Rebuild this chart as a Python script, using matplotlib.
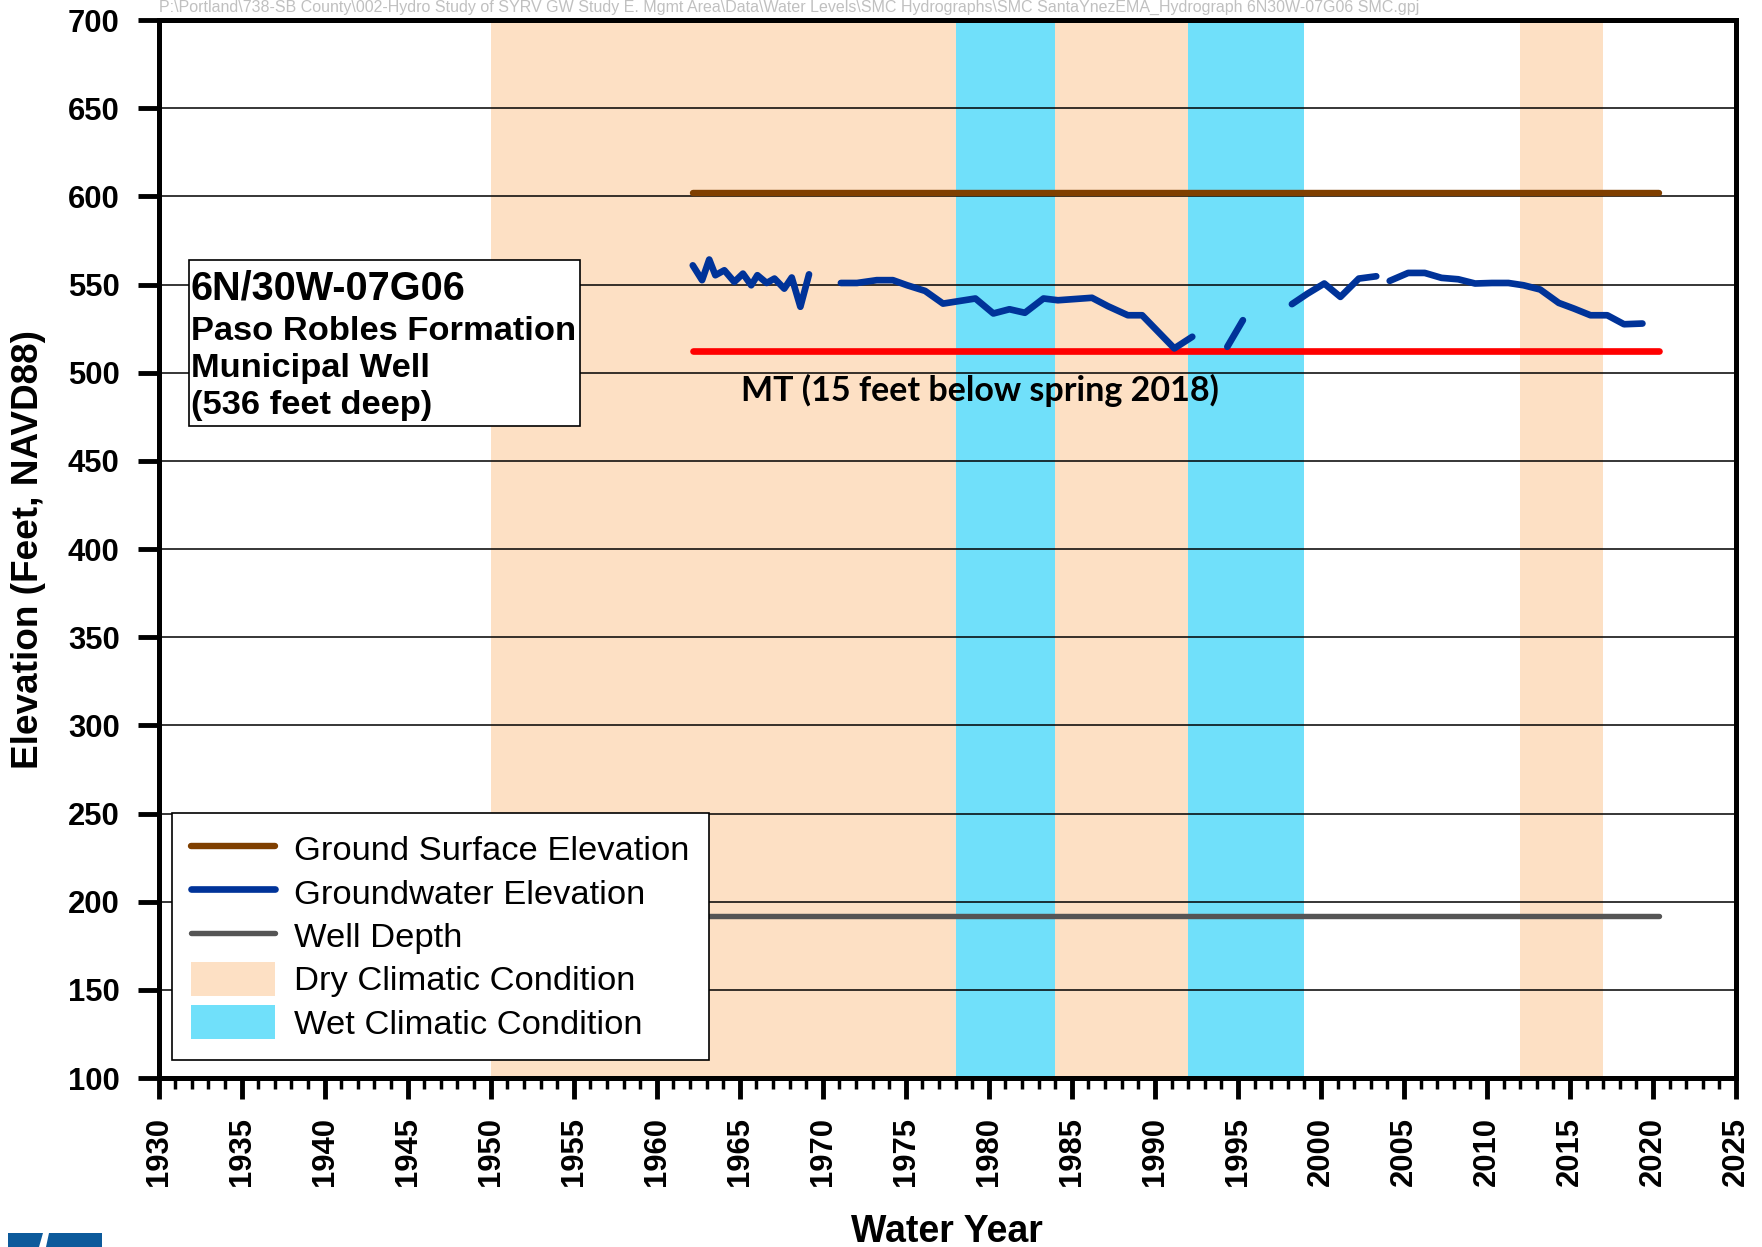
import numpy as np
import matplotlib.pyplot as plt
from matplotlib.patches import Patch, Rectangle, Polygon
from matplotlib.lines import Line2D
from matplotlib.ticker import MultipleLocator

plt.rcParams['font.family'] = ['Liberation Sans', 'DejaVu Sans']

#%% well data

well_name = '6N/30W-07G06'
well_info = ['Paso Robles Formation', 'Municipal Well', '(536 feet deep)']
file_path = ('P:\\Portland\\738-SB County\\002-Hydro Study of SYRV GW Study E. Mgmt Area'
             '\\Data\\Water Levels\\SMC Hydrographs\\SMC SantaYnezEMA_Hydrograph '
             '6N30W-07G06 SMC.gpj')

# groundwater elevation record, one list per continuous stretch
gw_years = [
    [1962.17, 1962.73, 1963.16, 1963.53, 1964.07, 1964.67, 1965.19, 1965.69,
     1966.06, 1966.62, 1967.09, 1967.68, 1968.13, 1968.65, 1969.17],
    [1971.09, 1972.06, 1973.25, 1974.22, 1975.08, 1976.16, 1977.24, 1979.19,
     1980.27, 1981.24, 1982.17, 1983.29, 1984.16, 1986.21, 1987.18, 1988.37,
     1989.23, 1991.17, 1992.25],
    [1994.36, 1995.30],
    [1998.25, 1999.20, 2000.20, 2001.17, 2002.28, 2003.33],
    [2004.14, 2005.25, 2006.25, 2007.26, 2008.27, 2009.28, 2010.29, 2011.29,
     2012.20, 2013.20, 2014.32, 2015.23, 2016.23, 2017.24, 2018.25, 2019.36],
]
gw_elev = [
    [560.9, 552.5, 564.2, 555.3, 558.1, 551.5, 556.2, 549.6,
     555.3, 550.9, 553.4, 547.7, 554.0, 537.4, 555.8],
    [550.9, 550.9, 552.5, 552.5, 549.6, 546.4, 539.2, 542.1,
     533.6, 536.0, 534.0, 542.1, 541.1, 542.5, 537.7, 532.6,
     532.6, 513.8, 520.4],
    [514.7, 529.8],
    [538.9, 544.9, 550.6, 543.0, 553.4, 554.7],
    [552.1, 556.6, 556.6, 553.8, 553.0, 550.6, 550.9, 550.9,
     549.6, 547.2, 539.6, 536.4, 532.6, 532.6, 527.5, 527.9],
]

record_span = [1962.2, 2020.35]
ground_surface = 602
mt_elev = 512.5
well_bottom = 192

dry_periods = [(1950, 1978), (1984, 1992), (2012, 2017)]
wet_periods = [(1978, 1984), (1992, 1999)]

dry_color = '#FDE0C4'
wet_color = '#70E0FA'
gw_color = '#003399'
gs_color = '#7F3F00'
wd_color = '#555555'

#%% figure

fig = plt.figure(figsize=(17.62, 12.47), dpi=100)
ax = fig.add_axes([0.0900, 0.1355, 0.8953, 0.8484])

for x0, x1 in dry_periods:
    ax.axvspan(x0, x1, color=dry_color, lw=0, zorder=0.5)
for x0, x1 in wet_periods:
    ax.axvspan(x0, x1, color=wet_color, lw=0, zorder=0.5)

ax.plot(record_span, [ground_surface] * 2, color=gs_color, lw=4.6, solid_capstyle='round')
ax.plot(record_span, [well_bottom] * 2, color=wd_color, lw=3.9, solid_capstyle='round')
ax.plot(record_span, [mt_elev] * 2, color='red', lw=4.8, solid_capstyle='round', zorder=2.5)
for yrs, elev in zip(gw_years, gw_elev):
    ax.plot(yrs, elev, color=gw_color, lw=4.8, solid_capstyle='round',
            solid_joinstyle='round', zorder=3)

ax.set_xlim(1930, 2025)
ax.set_ylim(100, 700)

ax.set_xticks(np.arange(1930, 2026, 5))
ax.set_xticklabels([str(y) for y in range(1930, 2026, 5)], rotation=90,
                   fontweight='bold', fontsize=22.3)
ax.xaxis.set_minor_locator(MultipleLocator(1))
ax.set_yticks(np.arange(100, 701, 50))
ax.set_yticklabels([str(v) for v in range(100, 701, 50)], fontweight='bold', fontsize=22.3)

ax.tick_params(axis='both', which='major', direction='out', length=15, width=3.5, pad=13)
ax.tick_params(axis='x', which='minor', direction='out', length=8, width=2.5)
for s in ax.spines.values():
    s.set_linewidth(3.6)

ax.yaxis.grid(True, color='black', lw=1.1)

# well label box
ax.add_patch(Rectangle((0.019, 0.6165), 0.2482, 0.1567, transform=ax.transAxes,
                       facecolor='white', edgecolor='black', lw=1.2, zorder=4))
ax.text(0.0203, 0.7363, well_name, transform=ax.transAxes, fontsize=28.5,
        fontweight='bold', va='baseline', zorder=5)
for y, line in zip([0.6975, 0.6626, 0.6276], well_info):
    ax.text(0.0203, y, line, transform=ax.transAxes,
            fontsize=24.8, fontweight='bold', va='baseline', zorder=5)

ax.text(1965.1, 490, 'MT (15 feet below spring 2018)', fontsize=24.5,
        fontweight='bold', family=['Lato', 'DejaVu Sans'], va='center', zorder=5)

handles = [
    Line2D([], [], color=gs_color, lw=4.6, solid_capstyle='round'),
    Line2D([], [], color=gw_color, lw=4.8, solid_capstyle='round'),
    Line2D([], [], color=wd_color, lw=3.9, solid_capstyle='round'),
    Patch(facecolor=dry_color, lw=0),
    Patch(facecolor=wet_color, lw=0),
]
labels = ['Ground Surface Elevation', 'Groundwater Elevation', 'Well Depth',
          'Dry Climatic Condition', 'Wet Climatic Condition']
leg = ax.legend(handles, labels, loc='lower left', bbox_to_anchor=(0.0086, 0.0174),
                borderaxespad=0, fontsize=24.8, handlelength=2.45, handleheight=1.15,
                handletextpad=0.55, labelspacing=0.22, borderpad=0.55,
                fancybox=False, framealpha=1, edgecolor='black')
leg.get_frame().set_linewidth(1.2)
leg.set_zorder(6)

fig.text(0.0159, 0.559, 'Elevation (Feet, NAVD88)', rotation=90, fontsize=26.6,
         fontweight='bold', ha='center', va='center')
fig.text(0.5375, 0.0118, 'Water Year', fontsize=27, fontweight='bold',
         ha='center', va='center')
fig.text(0.090, 0.9944, file_path, fontsize=11.5, color='#C0C0C0', va='center')

# logo corner
W, H = 1762, 1247
for pts in ([(8, 1233), (43, 1233), (39, 1247), (8, 1247)],
            [(49, 1233), (102, 1233), (102, 1247), (46, 1247)]):
    fig.add_artist(Polygon([(x / W, 1 - y / H) for x, y in pts], closed=True,
                           transform=fig.transFigure, facecolor='#0C5A9B', lw=0))

fig.savefig('out.png', dpi=100)
plt.close()
